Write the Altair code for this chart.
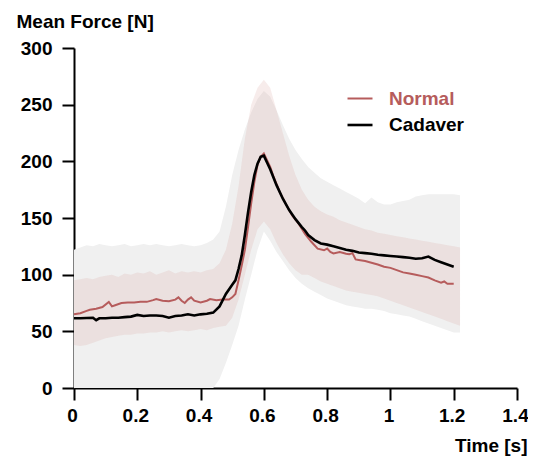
import altair as alt
import pandas as pd

# ---- data ----
BAND_T = [0.00, 0.02, 0.04, 0.06, 0.08, 0.10, 0.12, 0.14, 0.16, 0.18,
          0.20, 0.22, 0.24, 0.26, 0.28, 0.30, 0.32, 0.34, 0.36, 0.38,
          0.40, 0.42, 0.44, 0.46, 0.48, 0.50, 0.52, 0.54, 0.56, 0.58,
          0.60, 0.62, 0.64, 0.66, 0.68, 0.70, 0.72, 0.74, 0.76, 0.78,
          0.80, 0.82, 0.84, 0.86, 0.88, 0.90, 0.92, 0.94, 0.96, 0.98,
          1.00, 1.02, 1.04, 1.06, 1.08, 1.10, 1.12, 1.14, 1.16, 1.18,
          1.20, 1.22]

CADAVER_HI = [122, 124, 126, 125, 127, 126, 125, 126, 127, 125,
              126, 127, 126, 127, 126, 125, 126, 127, 126, 125,
              126, 128, 131, 138, 160, 188, 210, 228, 243, 255,
              262, 257, 245, 232, 220, 210, 202, 195, 190, 185,
              182, 179, 176, 173, 170, 167, 163, 168, 164, 162,
              162, 164, 165, 166, 169, 170, 171, 171, 171, 171,
              171, 170]
CADAVER_LO = [0, 0, 0, 0, 0, 0, 0, 0, 0, 0,
              0, 0, 0, 0, 0, 0, 0, 0, 0, 0,
              0, 0, 0, 8, 22, 38, 55, 78, 100, 122,
              138, 130, 120, 112, 104, 97, 92, 88, 85, 82,
              79, 77, 75, 73, 72, 71, 70, 70, 69, 68,
              66, 65, 64, 63, 61, 59, 57, 55, 53, 51,
              49, 49]
NORMAL_HI = [95, 96, 97, 96, 98, 99, 100, 98, 101, 100,
             102, 101, 103, 100, 102, 104, 101, 103, 102, 103,
             102, 104, 105, 110, 122, 145, 178, 220, 250, 265,
             272, 265, 245, 225, 205, 188, 175, 166, 160, 156,
             153, 151, 148, 146, 144, 142, 140, 139, 137, 136,
             135, 134, 133, 132, 131, 130, 129, 128, 127, 126,
             125, 124]
NORMAL_LO = [38, 37, 38, 40, 42, 44, 45, 46, 47, 47,
             48, 48, 49, 49, 50, 49, 50, 51, 50, 51,
             52, 51, 53, 54, 55, 62, 78, 100, 122, 140,
             147, 140, 128, 118, 110, 104, 100, 100, 97, 94,
             92, 90, 88, 86, 85, 84, 83, 82, 81, 79,
             77, 75, 73, 71, 69, 67, 65, 63, 61, 59,
             57, 55]

NORMAL_T = [0.00, 0.02, 0.04, 0.05, 0.07, 0.09, 0.11, 0.12, 0.13, 0.15,
            0.17, 0.19, 0.21, 0.23, 0.25, 0.26, 0.28, 0.30, 0.32, 0.33,
            0.34, 0.35, 0.36, 0.37, 0.38, 0.40, 0.42, 0.43, 0.45, 0.47,
            0.49, 0.50, 0.51, 0.52, 0.53, 0.54, 0.55, 0.56, 0.57, 0.58,
            0.59, 0.60, 0.61, 0.62, 0.63, 0.65, 0.67, 0.69, 0.71, 0.73,
            0.75, 0.77, 0.79, 0.80, 0.81, 0.82, 0.84, 0.86, 0.87, 0.88,
            0.89, 0.90, 0.92, 0.94, 0.96, 0.98, 1.00, 1.02, 1.04, 1.06,
            1.08, 1.10, 1.12, 1.14, 1.16, 1.17, 1.18, 1.20]
NORMAL_V = [65, 66, 68, 69, 70, 71.5, 76, 72, 73, 75,
            75.5, 75.5, 76, 76, 77.5, 78.5, 77, 76.5, 78, 80,
            77, 75, 78, 80, 77, 75.5, 77, 78.5, 77.5, 78,
            78, 80, 83, 95, 108, 122, 142, 163, 182, 197,
            204, 207, 201, 195, 187, 173, 162, 152, 145, 136,
            129, 123, 121.5, 123, 120, 118.7, 120, 118.5, 118, 119,
            113.5, 113, 112, 110.5, 109, 107, 106, 104, 102, 101,
            100, 98.7, 97.5, 95, 93, 94, 92, 92]

CADAVER_T = [0.00, 0.02, 0.04, 0.06, 0.07, 0.08, 0.10, 0.12, 0.14, 0.16,
             0.18, 0.20, 0.22, 0.24, 0.26, 0.28, 0.30, 0.32, 0.34, 0.36,
             0.38, 0.40, 0.42, 0.44, 0.46, 0.48, 0.50, 0.51, 0.52, 0.53,
             0.54, 0.55, 0.56, 0.57, 0.58, 0.59, 0.60, 0.61, 0.62, 0.64,
             0.66, 0.68, 0.70, 0.72, 0.73, 0.74, 0.76, 0.78, 0.80, 0.82,
             0.84, 0.86, 0.88, 0.90, 0.92, 0.94, 0.96, 0.98, 1.00, 1.02,
             1.04, 1.06, 1.08, 1.10, 1.12, 1.14, 1.16, 1.18, 1.20]
CADAVER_V = [61.5, 61.5, 61.8, 62, 59.8, 61.5, 61.5, 62, 62, 62.5,
             63, 64.5, 63.5, 64, 64, 63.5, 62, 63.5, 64, 65,
             64, 65, 65.5, 66.5, 72, 83, 91, 95, 105, 117,
             135, 155, 173, 188, 198, 204, 205, 199, 193, 179,
             167, 157, 149, 142, 139, 135, 130.5, 127.5, 126.5, 125,
             123.5, 122, 121, 119.5, 119, 118.5, 117.5, 117, 116.5, 116,
             115.5, 115, 114, 114.5, 116, 113, 111, 109, 107]

SERIES = ["Normal", "Cadaver"]
COLORS = ["#b65c5c", "#000000"]
X_TICKS = [0, 0.2, 0.4, 0.6, 0.8, 1.0, 1.2, 1.4]
Y_TICKS = [0, 50, 100, 150, 200, 250, 300]

# ---- tables ----
band = pd.DataFrame({"t": BAND_T, "c_lo": CADAVER_LO, "c_hi": CADAVER_HI,
                     "n_lo": NORMAL_LO, "n_hi": NORMAL_HI})
lines = pd.concat([
    pd.DataFrame({"t": NORMAL_T, "v": NORMAL_V, "group": "Normal", "ord": 0}),
    pd.DataFrame({"t": CADAVER_T, "v": CADAVER_V, "group": "Cadaver", "ord": 1}),
], ignore_index=True)

FONT = "Liberation Sans"

xs = alt.Scale(domain=[0, 1.4], nice=False, zero=False)
ys = alt.Scale(domain=[0, 300], nice=False)

x_axis = alt.Axis(values=X_TICKS, format="~g", title="Time [s]",
                  titleAlign="right", titleX=453, titleY=63,
                  titleBaseline="alphabetic", labelPadding=6,
                  labelOffset=-2, labelFlush=False, labelOverlap=False)
y_axis = alt.Axis(values=Y_TICKS, title="Mean Force [N]", titleAngle=0,
                  titleAlign="left", titleX=-58, titleY=-21,
                  titleBaseline="alphabetic", labelPadding=10)

grey = alt.Chart(band).mark_area(color="#f0f0f0", opacity=1).encode(
    x=alt.X("t:Q", scale=xs, axis=x_axis),
    y=alt.Y("c_lo:Q", scale=ys, axis=y_axis),
    y2="c_hi:Q",
)
pink = alt.Chart(band).mark_area(color="#d9a19a", opacity=0.2).encode(
    x=alt.X("t:Q", scale=xs),
    y=alt.Y("n_lo:Q", scale=ys),
    y2="n_hi:Q",
)
line = alt.Chart(lines).mark_line().encode(
    x=alt.X("t:Q", scale=xs),
    y=alt.Y("v:Q", scale=ys),
    color=alt.Color(
        "group:N",
        scale=alt.Scale(domain=SERIES, range=COLORS),
        legend=alt.Legend(
            title=None, orient="none", legendX=272, legendY=37,
            symbolType="stroke", symbolSize=625, symbolStrokeWidth=2.5,
            labelFont=FONT, labelFontSize=19, labelFontWeight="bold",
            labelColor=alt.ExprRef("datum.label == 'Normal' ? '#b65c5c' : '#000000'"),
            labelOffset=15, rowPadding=2, padding=0,
        ),
    ),
    strokeWidth=alt.StrokeWidth("group:N", scale=alt.Scale(domain=SERIES, range=[2, 2.6]), legend=None),
    order="ord:Q",
)

chart = alt.layer(grey, pink, line).properties(
    width=443, height=340,
    autosize=alt.AutoSizeParams(type="none"),
    padding={"left": 66, "top": 40, "right": 11, "bottom": 68},
).configure_axis(
    domainColor="black", domainWidth=2, tickColor="black", tickWidth=2,
    tickSize=12, labelFont=FONT, labelFontSize=19, labelFontWeight="bold",
    labelColor="black", titleFont=FONT, titleFontSize=19,
    titleFontWeight="bold", titleColor="black", grid=False,
).configure_view(stroke=None)

chart.save("out.html", embed_options={"renderer": "svg", "actions": False})
